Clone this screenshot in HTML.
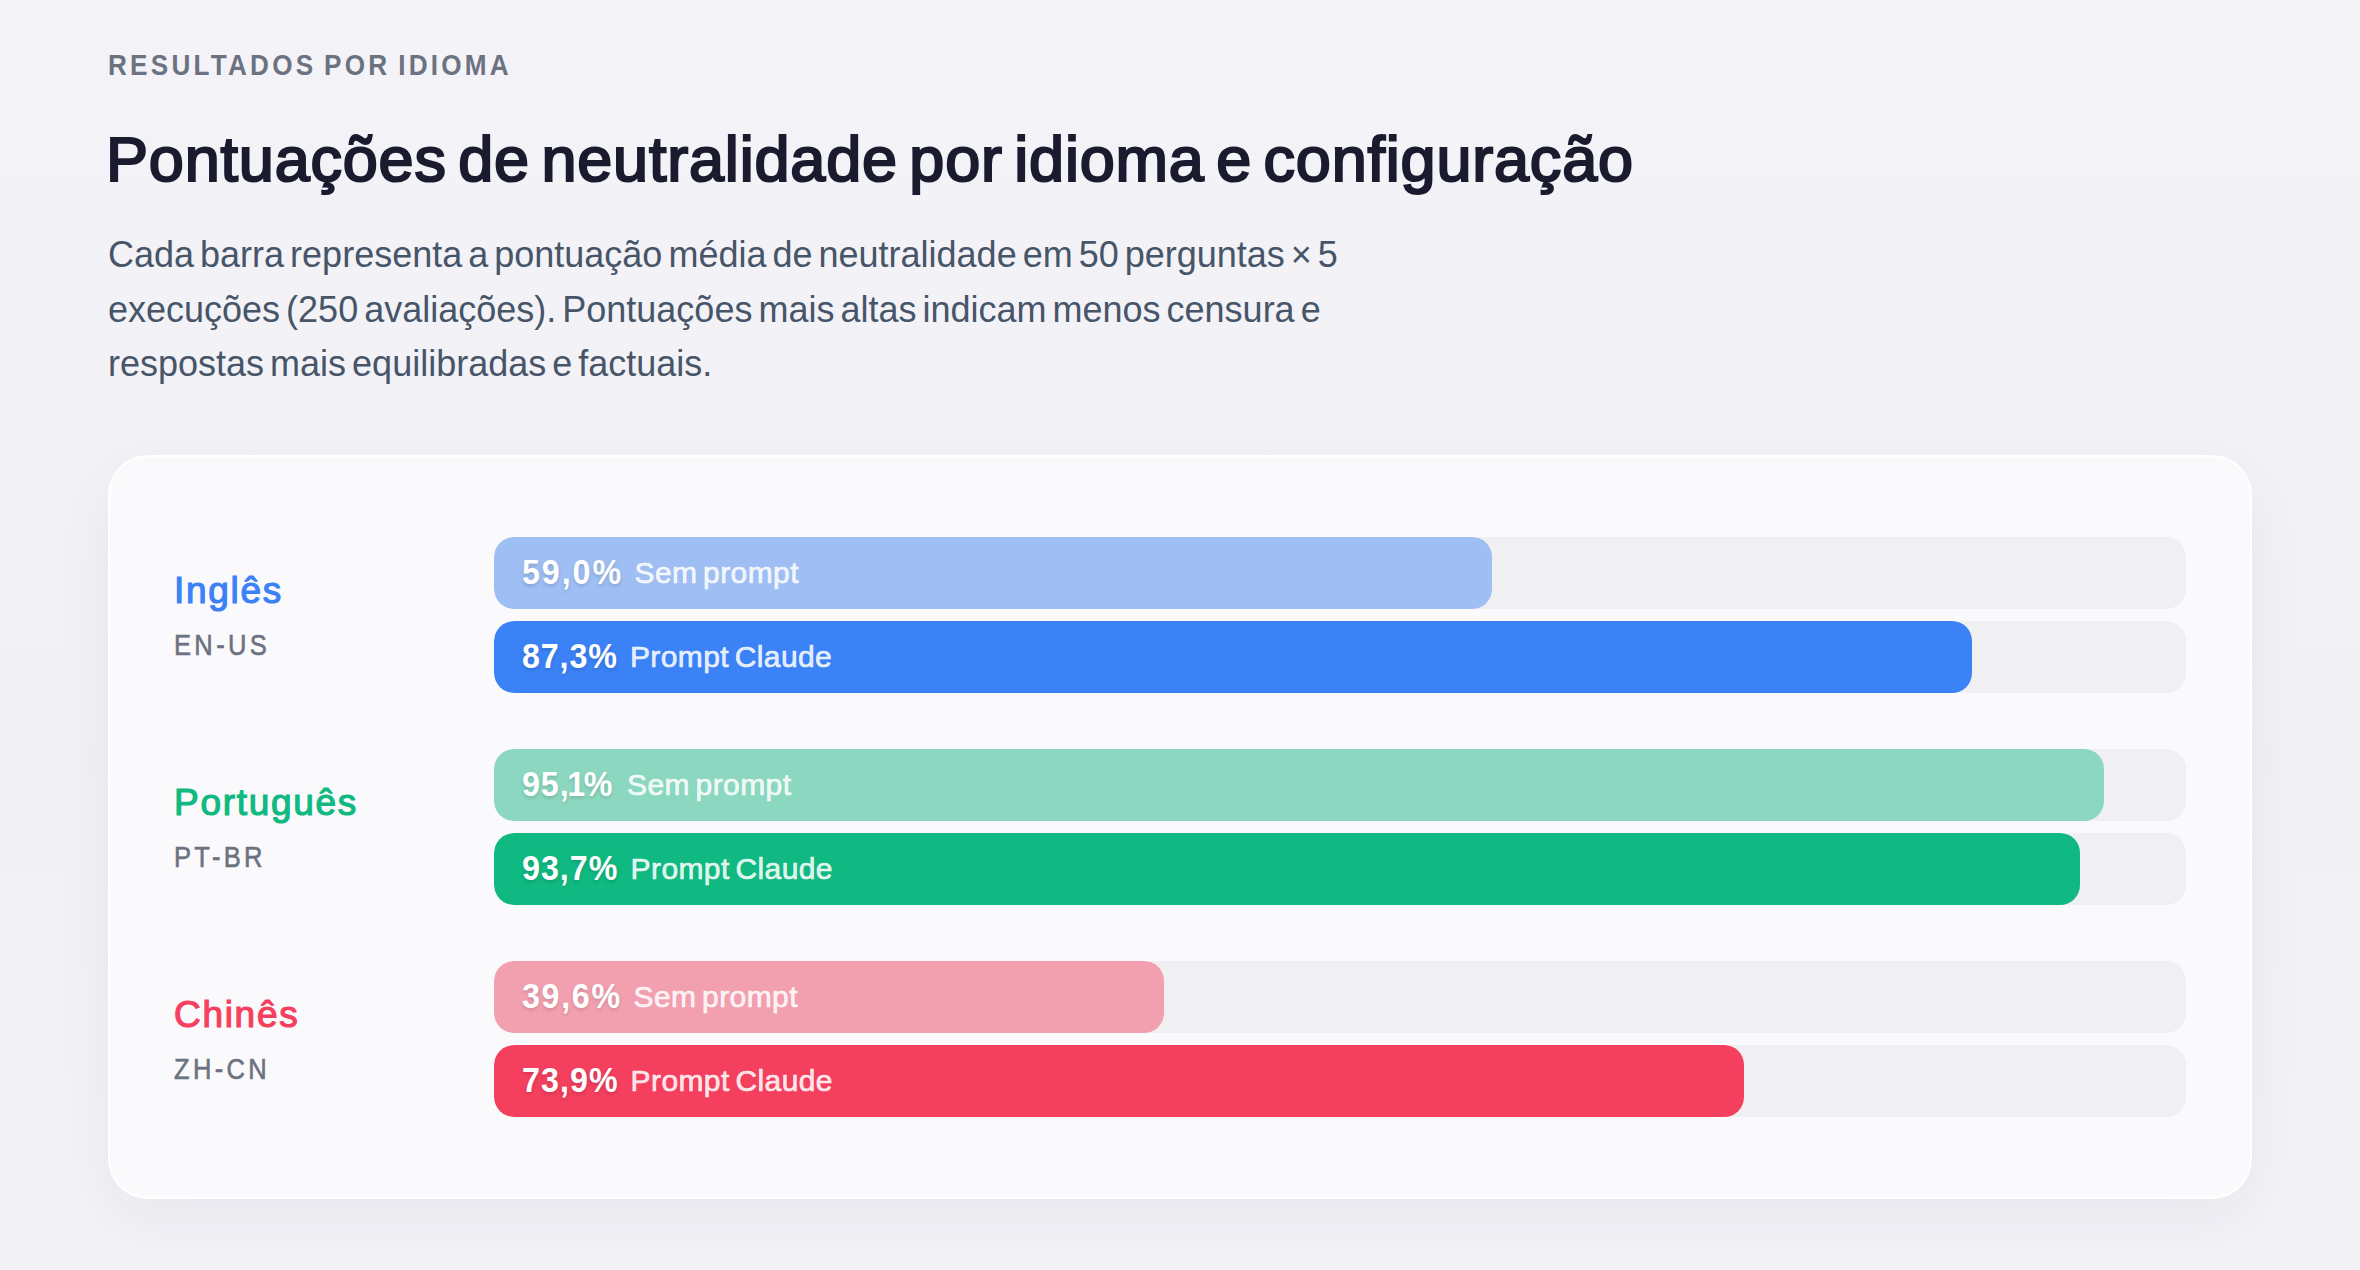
<!DOCTYPE html>
<html lang="pt-BR">
<head>
<meta charset="utf-8">
<title>Resultados por idioma</title>
<style>
  * { margin: 0; padding: 0; box-sizing: border-box; }
  html, body { width: 2360px; height: 1270px; overflow: hidden; }
  body {
    font-family: "Liberation Sans", sans-serif;
    background: linear-gradient(180deg, #f4f3f8 0%, #f1f0f5 60%, #f3f2f7 100%);
    position: relative;
  }
  .eyebrow {
    position: absolute; left: 108px; top: 47px;
    font-size: 29px; line-height: 36px; font-weight: 700;
    letter-spacing: 3.6px; word-spacing: -3px; color: #6b7280;
    white-space: nowrap;
    transform: scaleX(0.9); transform-origin: 0 0;
  }
  .title {
    position: absolute; left: 106px; top: 123px;
    font-size: 63px; line-height: 72px; font-weight: 400;
    -webkit-text-stroke: 2.2px currentColor;
    letter-spacing: 0.8px; word-spacing: -6.8px;
    color: #1a1b2e; white-space: nowrap;
  }
  .lead {
    position: absolute; left: 108px; top: 228px;
    font-size: 36px; line-height: 54.6px; font-weight: 400;
    word-spacing: -4px;
    color: #475569; white-space: nowrap;
  }
  .card {
    position: absolute; left: 108px; top: 455px;
    width: 2144px; height: 744px;
    background: #fafafc;
    border: 2px solid #ffffff;
    border-radius: 40px;
    box-shadow: 0 22px 60px rgba(30, 30, 60, 0.05);
  }
  .group { position: absolute; left: 64px; width: 2012px; height: 156px; }
  .lang {
    position: absolute; left: 0; top: 34px;
    font-size: 37px; line-height: 40px; font-weight: 400;
    -webkit-text-stroke: 1.2px currentColor; letter-spacing: 1.7px;
  }
  .code {
    position: absolute; left: 0; top: 92px;
    font-size: 29px; line-height: 32px; font-weight: 400;
    letter-spacing: 3.8px; color: #6b7280;
    -webkit-text-stroke: 0.6px #6b7280;
    transform: scaleX(0.88); transform-origin: 0 0;
  }
  .track {
    position: absolute; left: 320px; width: 1692px; height: 72px;
    background: #f0f0f3; border-radius: 20px; overflow: hidden;
  }
  .t1 { top: 0; }
  .t2 { top: 84px; }
  .bar {
    position: absolute; left: 0; top: 0; height: 72px; border-radius: 20px;
    white-space: nowrap;
  }
  .pct {
    position: absolute; left: 28px; top: 15px; line-height: 40px;
    font-size: 35px; font-weight: 700; color: #ffffff;
    transform: scaleX(0.92); transform-origin: 0 0;
    text-shadow: 0 2px 4px rgba(0,0,0,0.15);
  }
  .one { margin-left: -2.5px; margin-right: -2.5px; }
  .cfg {
    position: absolute; left: 142px; top: 16px; line-height: 40px;
    font-size: 30px; font-weight: 400;
    letter-spacing: 0.4px; word-spacing: -3px;
    -webkit-text-stroke: 0.7px rgba(255,255,255,0.85);
    color: rgba(255,255,255,0.85);
  }
</style>
</head>
<body>
  <div class="eyebrow">RESULTADOS POR IDIOMA</div>
  <div class="title">Pontuações de neutralidade por idioma e configuração</div>
  <div class="lead">Cada barra representa a pontuação média de neutralidade em 50 perguntas × 5<br>execuções (250 avaliações). Pontuações mais altas indicam menos censura e<br>respostas mais equilibradas e factuais.</div>

  <div class="card">
    <div class="group" style="top:80px;">
      <div class="lang" style="color:#3b82f6;">Inglês</div>
      <div class="code">EN-US</div>
      <div class="track t1"><div class="bar" style="width:998px;background:#9ebef4;"><span class="pct" style="letter-spacing:2.1px;">59,0%</span><span class="cfg" style="left:140.5px;">Sem prompt</span></div></div>
      <div class="track t2"><div class="bar" style="width:1478px;background:#3b82f6;"><span class="pct" style="letter-spacing:0.95px;">87,3%</span><span class="cfg" style="left:135.9px;">Prompt Claude</span></div></div>
    </div>
    <div class="group" style="top:292px;">
      <div class="lang" style="color:#10b981;">Português</div>
      <div class="code">PT-BR</div>
      <div class="track t1"><div class="bar" style="width:1610px;background:#8bd7bf;"><span class="pct" style="letter-spacing:1.0px;">95,<span class="one">1</span>%</span><span class="cfg" style="left:133px;">Sem prompt</span></div></div>
      <div class="track t2"><div class="bar" style="width:1586px;background:#10b981;"><span class="pct" style="letter-spacing:1.1px;">93,7%</span><span class="cfg" style="left:136.6px;">Prompt Claude</span></div></div>
    </div>
    <div class="group" style="top:504px;">
      <div class="lang" style="color:#f43f5e;">Chinês</div>
      <div class="code">ZH-CN</div>
      <div class="track t1"><div class="bar" style="width:670px;background:#f2a0b0;"><span class="pct" style="letter-spacing:1.85px;">39,6%</span><span class="cfg" style="left:139.5px;">Sem prompt</span></div></div>
      <div class="track t2"><div class="bar" style="width:1250px;background:#f43f5e;"><span class="pct" style="letter-spacing:1.2px;">73,9%</span><span class="cfg" style="left:136.6px;">Prompt Claude</span></div></div>
    </div>
  </div>
</body>
</html>
